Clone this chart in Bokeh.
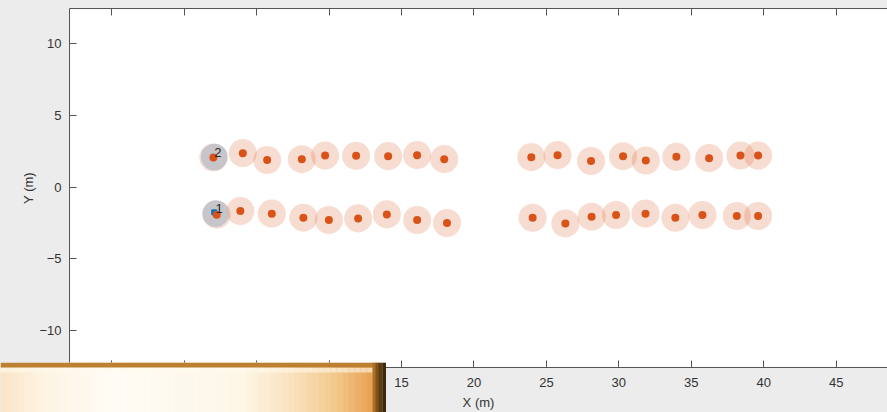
from bokeh.plotting import figure
from bokeh.models import Range1d, LinearAxis, FixedTicker, ColumnDataSource
from bokeh.layouts import column
from bokeh.embed import file_html
from bokeh.resources import INLINE
from bokeh.core.properties import value

# ---- data ----
top_x = [2.02, 4.05, 5.73, 8.12, 9.73, 11.87, 14.08, 16.08, 17.95,
         23.96, 25.77, 28.08, 30.29, 31.86, 33.97, 36.23, 38.39, 39.61]
top_y = [2.06, 2.36, 1.88, 1.94, 2.19, 2.17, 2.15, 2.22, 1.94,
         2.08, 2.22, 1.81, 2.15, 1.85, 2.10, 2.01, 2.19, 2.19]
bot_x = [2.25, 3.88, 6.05, 8.23, 9.99, 12.01, 13.99, 16.08, 18.14,
         24.05, 26.31, 28.12, 29.81, 31.84, 33.90, 35.77, 38.14, 39.61]
bot_y = [-1.92, -1.67, -1.85, -2.13, -2.29, -2.18, -1.90, -2.29, -2.50,
         -2.13, -2.53, -2.06, -1.94, -1.85, -2.13, -1.94, -2.01, -2.01]

track_ids = ["1", "2"]
track_x = [2.17, 2.08]
track_y = [-1.85, 2.09]

truth_x = [2.08]
truth_y = [-1.76]

x_ticks = [-5, 0, 5, 10, 15, 20, 25, 30, 35, 40, 45]
y_ticks = [-10, -5, 0, 5, 10]

# ---- styles ----
BG = "#ececec"
AX = "#555555"
TXT = "#333333"
FONT = "Liberation Sans"
ORANGE = "#D95319"

det = ColumnDataSource(dict(x=top_x + bot_x, y=top_y + bot_y))
trk = ColumnDataSource(dict(x=track_x, y=track_y, t=track_ids))

p = figure(width=887, height=412, output_backend="svg", toolbar_location=None,
           x_range=Range1d(-7.91, 48.54), y_range=Range1d(-12.55, 12.42),
           background_fill_color="white", border_fill_color=BG,
           min_border_left=69, min_border_right=0, min_border_top=8,
           min_border_bottom=44, outline_line_color=None)
p.xgrid.visible = False
p.ygrid.visible = False

def style_axis(ax, ticks):
    ax.ticker = FixedTicker(ticks=ticks)
    ax.major_tick_in = 7
    ax.major_tick_out = 0
    ax.minor_tick_line_color = None
    ax.axis_line_color = AX
    ax.major_tick_line_color = AX
    ax.major_label_text_color = TXT
    ax.major_label_text_font = FONT
    ax.major_label_text_font_size = "13px"
    ax.axis_label_text_color = TXT
    ax.axis_label_text_font = FONT
    ax.axis_label_text_font_size = "13px"
    ax.axis_label_text_font_style = "normal"

style_axis(p.xaxis[0], x_ticks)
style_axis(p.yaxis[0], y_ticks)
p.xaxis[0].axis_label = "X (m)"
p.xaxis[0].major_label_standoff = 10
p.xaxis[0].axis_label_standoff = 5
p.yaxis[0].axis_label = "Y (m)"
p.yaxis[0].major_label_standoff = 8
p.yaxis[0].axis_label_standoff = 0

top_axis = LinearAxis()
style_axis(top_axis, x_ticks)
top_axis.major_label_text_font_size = "0px"
top_axis.major_label_standoff = 0
p.add_layout(top_axis, "above")

# faint detection regions
p.circle(x="x", y="y", radius=0.97, source=det, fill_color=ORANGE,
         fill_alpha=0.2, line_color=None)
# tracks (gray discs)
p.circle(x="x", y="y", radius=0.92, source=trk, fill_color="#b4bac8",
         fill_alpha=0.7, line_color=None)
# ground truth marker
p.scatter(x=truth_x, y=truth_y, marker="square", size=5, color="#0072BD")
# detections
p.scatter(x="x", y="y", source=det, size=8, fill_color=ORANGE, line_color=None)
# track labels
p.text(x="x", y="y", text="t", source=trk, x_offset=0, y_offset=-5,
       text_font=value(FONT), text_font_size="13px", text_color="#262626",
       text_align="left", text_baseline="alphabetic")

# ---- golden bar overlay (decorative), its own small canvas ----
BAR_W, BAR_H = 386, 50

def lerp(c1, c2, t):
    return tuple(int(round(a + (b - a) * t)) for a, b in zip(c1, c2))

def hexc(c):
    return "#%02x%02x%02x" % c

stops = [(0, (250, 228, 196)), (40, (253, 243, 225)), (110, (255, 252, 246)),
         (240, (254, 247, 232)), (295, (249, 224, 186)), (335, (243, 200, 140)),
         (372, (232, 160, 80))]

def grad(xm):
    for j in range(len(stops) - 1):
        if stops[j][0] <= xm <= stops[j + 1][0]:
            t = (xm - stops[j][0]) / (stops[j + 1][0] - stops[j][0])
            return lerp(stops[j][1], stops[j + 1][1], t)
    return stops[-1][1]

n = 62
L, R, T, B, C = [], [], [], [], []
for i in range(n):
    x0 = 372 * i / n
    x1 = 372 * (i + 1) / n + 0.4
    c = grad((x0 + x1) / 2)
    L.append(x0); R.append(x1); T.append(4); B.append(BAR_H); C.append(hexc(c))
    hc = lerp(c, (255, 250, 235), 0.6)
    L.append(x0); R.append(x1); T.append(5); B.append(10); C.append(hexc(hc))
L.append(0); R.append(374); T.append(0); B.append(5); C.append("#bd7f30")
bevel = [(372, (170, 112, 40)), (375, (128, 82, 26)), (378, (92, 60, 18)), (382, (60, 40, 12))]
for bx, col in bevel:
    L.append(bx); R.append(bx + 4.2); T.append(0); B.append(BAR_H); C.append(hexc(col))

bar = figure(width=BAR_W, height=BAR_H, output_backend="svg", toolbar_location=None,
             x_range=Range1d(0, BAR_W), y_range=Range1d(BAR_H, 0),
             x_axis_type=None, y_axis_type=None, min_border=0,
             outline_line_color=None, background_fill_color=BG, border_fill_color=BG)
bar.xgrid.visible = False
bar.ygrid.visible = False
bar.quad(left=L, right=R, top=T, bottom=B, fill_color=C, line_color=None)
bar.margin = (-BAR_H, 0, 0, 0)
try:
    bar.frame_align = False
except Exception:
    pass

layout = column(p, bar, spacing=0)

html = file_html(layout, INLINE)
html = html.replace("<body>", '<body style="background-color:%s;">' % BG)
open("out.html", "w").write(html)
